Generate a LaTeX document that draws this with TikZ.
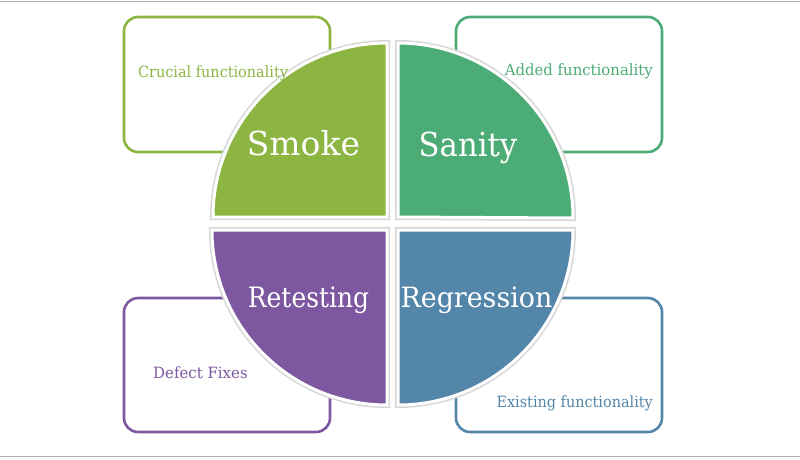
\documentclass[tikz,border=0pt]{standalone}
\usepackage{fontspec}
\setmainfont{DejaVu Serif}
\definecolor{cgreen}{RGB}{141,181,66}
\definecolor{cteal}{RGB}{76,172,118}
\definecolor{cpurple}{RGB}{125,88,160}
\definecolor{cblue}{RGB}{84,134,170}
\newcommand{\sx}[2]{\scalebox{#1}[1]{#2}}
\begin{document}
\begin{tikzpicture}[x=1pt,y=-1pt,
  box/.style={rounded corners=14pt, line width=2.6pt, fill=white},
  quad/.style={fill=#1, draw=white, line width=3pt},
  qshadow/.style={draw=black!16, line width=6pt},
  small/.style={font=\fontsize{15.5}{18}\selectfont, inner sep=0pt},
  bigA/.style={font=\fontsize{33}{38}\selectfont, text=white, inner sep=0pt, anchor=base},
  bigB/.style={font=\fontsize{28}{34}\selectfont, text=white, inner sep=0pt, anchor=base}]
\useasboundingbox (0,0) rectangle (800,459);
\fill[white] (0,0) rectangle (800,459);
\draw[black!30, line width=1pt] (0,1) -- (800,1);
\draw[black!30, line width=1pt] (0,456.5) -- (800,456.5);
% boxes
\draw[box, draw=cgreen] (124,17) rectangle (330,152);
\draw[box, draw=cteal] (456,17) rectangle (662,152);
\draw[box, draw=cpurple] (124,298) rectangle (330,432);
\draw[box, draw=cblue] (456,298) rectangle (662,432);
% quadrant shadows
\draw[qshadow] (387,217) -- (213,217) arc[start angle=180,end angle=270,radius=174] -- cycle;
\draw[qshadow] (398,217) -- (398,43) arc[start angle=270,end angle=360,radius=175] -- cycle;
\draw[qshadow] (387,230) -- (212,230) arc[start angle=180,end angle=90,radius=175] -- cycle;
\draw[qshadow] (398,230) -- (573,230) arc[start angle=0,end angle=90,radius=175] -- cycle;
% quadrants
\draw[quad=cgreen] (387,217) -- (213,217) arc[start angle=180,end angle=270,radius=174] -- cycle;
\draw[quad=cteal] (398,217) -- (398,43) arc[start angle=270,end angle=360,radius=175] -- cycle;
\draw[quad=cpurple] (387,230) -- (212,230) arc[start angle=180,end angle=90,radius=175] -- cycle;
\draw[quad=cblue] (398,230) -- (573,230) arc[start angle=0,end angle=90,radius=175] -- cycle;
% labels
\node[small, text=cgreen, anchor=base west] (t1) at (138,77) {\sx{0.93}{Crucial functionality}};
\node[small, text=cteal, anchor=base east] (t2) at (653,75) {\sx{0.96}{Added functionality}};
\node[small, text=cpurple, anchor=base west] (t3) at (153,378) {\sx{0.965}{Defect Fixes}};
\node[small, text=cblue, anchor=base east] (t4) at (653,407) {\sx{0.93}{Existing functionality}};
\node[bigA] (q1) at (303.5,155) {Smoke};
\node[bigA] (q2) at (468,156) {\sx{0.93}{Sanity}};
\node[bigB] (q3) at (308.5,307) {\sx{0.89}{Retesting}};
\node[bigB] (q4) at (476.5,307) {\sx{0.96}{Regression}};
\end{tikzpicture}
\end{document}
